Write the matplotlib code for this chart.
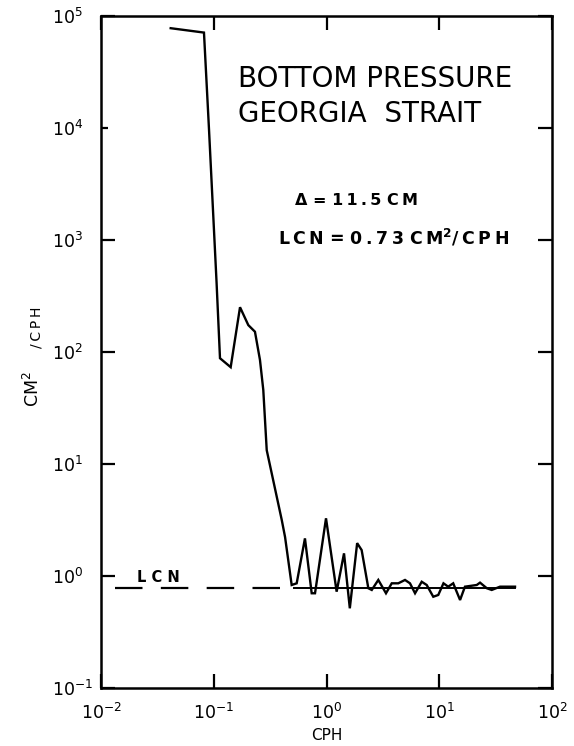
import matplotlib
matplotlib.use("Agg")
import matplotlib.pyplot as plt
from matplotlib.ticker import LogFormatterMathtext, FixedLocator, NullLocator

# ---- data ----
freq_cph = [0.0415, 0.0819, 0.0908, 0.106, 0.1136, 0.1413, 0.171, 0.2025, 0.232,
            0.257, 0.275, 0.295, 0.401, 0.429, 0.491, 0.544, 0.644, 0.739, 0.791,
            0.99, 1.23, 1.43, 1.61, 1.87, 2.05, 2.35, 2.52, 2.88, 3.37, 3.79, 4.33,
            4.97, 5.5, 6.1, 6.99, 7.74, 8.85, 9.8, 10.9, 12.0, 13.3, 15.3, 16.9,
            21.5, 23.0, 26.4, 29.2, 34.6, 47.0]
spectrum = [77800, 71100, 9620, 409, 87.5, 72.8, 250, 173, 151,
            84.5, 45.6, 13.2, 3.14, 2.21, 0.824, 0.853, 2.15, 0.695, 0.695,
            3.25, 0.718, 1.58, 0.51, 1.95, 1.69, 0.771, 0.744, 0.914, 0.695, 0.853, 0.853,
            0.914, 0.853, 0.695, 0.881, 0.824, 0.647, 0.671, 0.853, 0.796, 0.853, 0.605, 0.796,
            0.824, 0.865, 0.771, 0.744, 0.796, 0.796]
lcn_level = 0.77
lcn_dash_x = [0.01324, 0.45]
lcn_solid_x = [0.52, 47.0]
xticks = [1e-2, 1e-1, 1e0, 1e1, 1e2]
yticks = [1e-1, 1e0, 1e1, 1e2, 1e3, 1e4, 1e5]

plt.rcParams['font.family'] = ['DejaVu Sans']
plt.rcParams['lines.scale_dashes'] = False

TS = '\u2009'  # thin space used as letter spacing


def spaced(s):
    out = ''
    for i, ch in enumerate(s):
        out += ch
        if i + 1 < len(s) and ch != ' ' and s[i + 1] != ' ':
            out += TS
    return out


fig = plt.figure(figsize=(5.74, 7.46), dpi=100)
ax = fig.add_axes([101/574, (746-687.5)/746, 451/574, 671.5/746])
ax.set_xscale('log')
ax.set_yscale('log')
ax.set_xlim(1e-2, 1e2)
ax.set_ylim(1e-1, 1e5)

ax.plot(freq_cph, spectrum, color='black', lw=1.7, solid_joinstyle='miter')
ax.plot(lcn_dash_x, [lcn_level, lcn_level], color='black', lw=1.6,
        dashes=(19.8, 13.2))
ax.plot(lcn_solid_x, [lcn_level, lcn_level], color='black', lw=1.4)

for s in ax.spines.values():
    s.set_linewidth(1.8)

ax.xaxis.set_major_locator(FixedLocator(xticks))
ax.yaxis.set_major_locator(FixedLocator(yticks))
ax.xaxis.set_minor_locator(NullLocator())
ax.yaxis.set_minor_locator(NullLocator())
ax.xaxis.set_major_formatter(LogFormatterMathtext())
ax.yaxis.set_major_formatter(LogFormatterMathtext())
ax.tick_params(which='major', direction='in', length=10, width=1.6,
               top=True, right=True, labelsize=12.5)
ax.tick_params(axis='x', pad=11)
ax.tick_params(axis='y', pad=35)
for lbl in ax.get_yticklabels():
    lbl.set_horizontalalignment('left')
# the left tick at 10^4 is short in the original
ax.yaxis.get_major_ticks()[5].tick1line.set_markersize(5)

ax.set_xlabel('CPH', fontsize=11, labelpad=4)

# y label pieces
fig.text(43/574, 1 - 407/746, 'CM$^{2}$', rotation=90, ha='right', va='bottom',
         fontsize=12.5)
fig.text(43/574, 1 - 348/746, spaced('/CPH'), rotation=90, ha='right', va='bottom',
         fontsize=10)

# annotations
ax.text(0.164, 23200, 'BOTTOM PRESSURE', fontsize=20, va='baseline', ha='left')
ax.text(0.164, 11300, 'GEORGIA  STRAIT', fontsize=20, va='baseline', ha='left')
ax.text(0.526, 2050, spaced('\u0394 = 11.5 CM'), fontsize=11.5, fontweight='bold',
        va='baseline', ha='left')
ax.text(0.372, 900, spaced('LCN = 0.73 CM') + '$^{\\mathbf{2}}$' + spaced('/CPH'),
        fontsize=12.5, fontweight='bold', va='baseline', ha='left')
ax.text(0.0207, 0.877, 'L C N', fontsize=10.5, fontweight='bold',
        va='baseline', ha='left')

fig.savefig('out.png', dpi=100)
